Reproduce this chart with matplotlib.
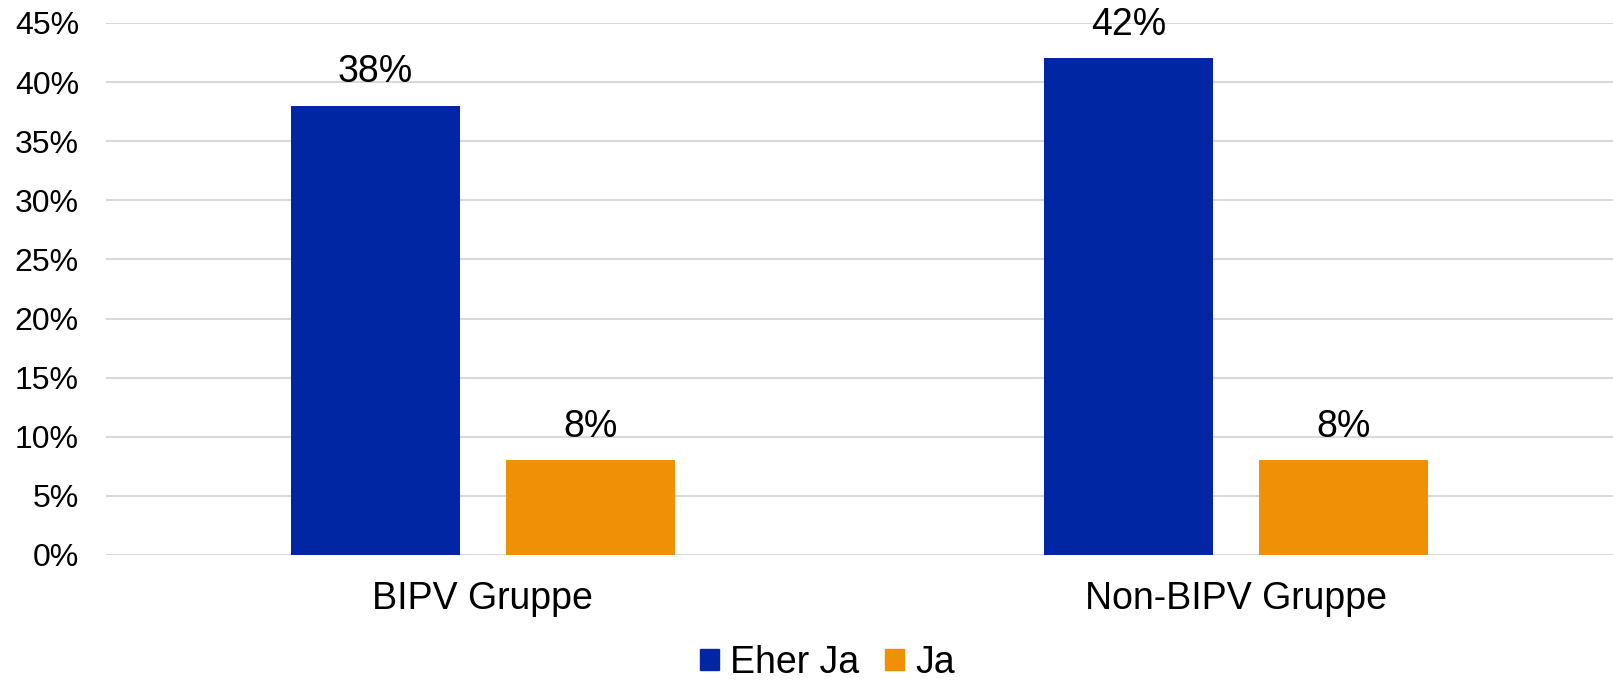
import numpy as np
import matplotlib.pyplot as plt
from matplotlib.patches import Patch

plt.rcParams['font.family'] = ['Liberation Sans', 'DejaVu Sans']

gruppen = ['BIPV Gruppe', 'Non-BIPV Gruppe']
eher_ja = [0.38, 0.42]
ja = [0.08, 0.08]
serien = ['Eher Ja', 'Ja']
farben = ['#0026A3', '#EF9104']
y_ticks = np.arange(0, 0.46, 0.05)

fig = plt.figure(figsize=(16.13, 6.8), dpi=100)
ax = fig.add_axes([106 / 1613, 125 / 680, 1 - 106 / 1613, 532 / 680])

x = np.arange(len(gruppen))
breite = 0.224
versatz = 0.1425
for werte, farbe, dx in zip([eher_ja, ja], farben, [-versatz, versatz]):
    balken = ax.bar(x + dx, werte, width=breite, color=farbe, zorder=3)
    for b, v in zip(balken, werte):
        ax.annotate(f'{v * 100:.0f}%', (b.get_x() + b.get_width() / 2, v),
                    xytext=(0, 24), textcoords='offset points',
                    ha='center', va='center', fontsize=27)

ax.set_xlim(-0.5, 1.5)
ax.set_ylim(0, 0.45)
ax.set_yticks(y_ticks)
ax.set_yticklabels([f'{t * 100:.0f}%' for t in y_ticks], fontsize=23)
ax.set_xticks(x)
ax.set_xticklabels(gruppen, fontsize=27)
ax.tick_params(axis='y', length=0, pad=19.5)
ax.tick_params(axis='x', length=0, pad=19)
ax.grid(axis='y', color='#d9d9d9', linewidth=1.5, zorder=0)
for s in ax.spines.values():
    s.set_visible(False)

handles = [Patch(color=f) for f in farben]
fig.legend(handles, serien, loc='center', bbox_to_anchor=(0.513, 17 / 680),
           ncol=2, frameon=False, fontsize=27, handlelength=0.5,
           handleheight=0.5, handletextpad=0.3, columnspacing=0.7,
           borderpad=0.1)

fig.savefig('out.png', dpi=100)
